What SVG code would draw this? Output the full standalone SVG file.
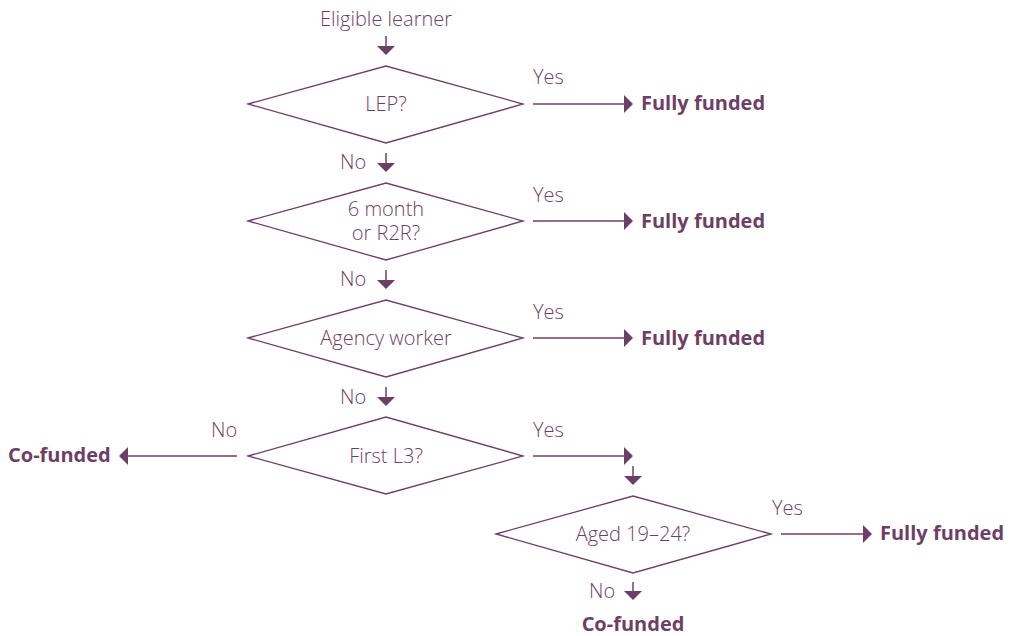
<svg xmlns="http://www.w3.org/2000/svg" width="1015" height="636" viewBox="0 0 1015 636">
<defs>
<style>
text{font-family:"Open Sans","Noto Sans",sans-serif;fill:#6e3f66;font-size:20px}
.b{font-weight:700;font-size:20px}
.l{font-weight:300}
.d{fill:none;stroke:#6e3f66;stroke-width:1.3}
.c{fill:none;stroke:#6e3f66;stroke-width:1.5}
.h{fill:#6e3f66}
</style>
</defs>
<rect width="1015" height="636" fill="#fff"/>
<text class="l" x="386" y="26" text-anchor="middle">Eligible learner</text>
<g id="n1"><polygon class="d" points="248,104 386,66 523,104 386,143"/><text class="l" x="386" y="111" text-anchor="middle">LEP?</text></g>
<g id="n2"><polygon class="d" points="248,221 386,183 523,221 386,260"/><text class="l" x="386" y="216" text-anchor="middle">6 month</text><text class="l" x="386" y="240" text-anchor="middle">or R2R?</text></g>
<g id="n3"><polygon class="d" points="248,338 386,300 523,338 386,377"/><text class="l" x="386" y="345" text-anchor="middle">Agency worker</text></g>
<g id="n4"><polygon class="d" points="248,456 386,417 523,456 386,494"/><text class="l" x="386" y="463" text-anchor="middle">First L3?</text></g>
<g id="n5"><polygon class="d" points="496,534 633,496 771,534 633,573"/><text class="l" x="633" y="541" text-anchor="middle">Aged 19–24?</text></g>
<g id="r1"><text class="b" x="641" y="110">Fully funded</text></g>
<g id="r2"><text class="b" x="641" y="228">Fully funded</text></g>
<g id="r3"><text class="b" x="641" y="345">Fully funded</text></g>
<g id="r4"><text class="b" x="8" y="462">Co-funded</text></g>
<g id="r5"><text class="b" x="880" y="540">Fully funded</text></g>
<g id="r6"><text class="b" x="633" y="631" text-anchor="middle">Co-funded</text></g>
<g id="connectors">
<line class="c" x1="386" y1="36" x2="386" y2="47"/><polygon class="h" points="377,46 395,46 386,55"/>
<line class="c" x1="386" y1="153" x2="386" y2="164"/><polygon class="h" points="377,163 395,163 386,172"/>
<line class="c" x1="386" y1="270" x2="386" y2="281"/><polygon class="h" points="377,280 395,280 386,289"/>
<line class="c" x1="386" y1="387" x2="386" y2="398"/><polygon class="h" points="377,397 395,397 386,406"/>
<line class="c" x1="533" y1="104" x2="625" y2="104"/><polygon class="h" points="624,95 624,113 633,104"/>
<line class="c" x1="533" y1="221" x2="625" y2="221"/><polygon class="h" points="624,212 624,230 633,221"/>
<line class="c" x1="533" y1="338" x2="625" y2="338"/><polygon class="h" points="624,329 624,347 633,338"/>
<line class="c" x1="533" y1="456" x2="625" y2="456"/><polygon class="h" points="624,447 624,465 633,456"/>
<line class="c" x1="237" y1="456" x2="127" y2="456"/><polygon class="h" points="128,447 128,465 119,456"/>
<line class="c" x1="633" y1="466" x2="633" y2="477"/><polygon class="h" points="624,476 642,476 633,485"/>
<line class="c" x1="781" y1="534" x2="864" y2="534"/><polygon class="h" points="863,525 863,543 872,534"/>
<line class="c" x1="633" y1="582" x2="633" y2="592"/><polygon class="h" points="624,591 642,591 633,600"/>
<text class="l" x="533" y="84">Yes</text>
<text class="l" x="533" y="202">Yes</text>
<text class="l" x="533" y="319">Yes</text>
<text class="l" x="533" y="437">Yes</text>
<text class="l" x="772" y="515">Yes</text>
<text class="l" x="340" y="169">No</text>
<text class="l" x="340" y="286">No</text>
<text class="l" x="340" y="404">No</text>
<text class="l" x="211" y="437">No</text>
<text class="l" x="589" y="598">No</text>
</g>
</svg>
